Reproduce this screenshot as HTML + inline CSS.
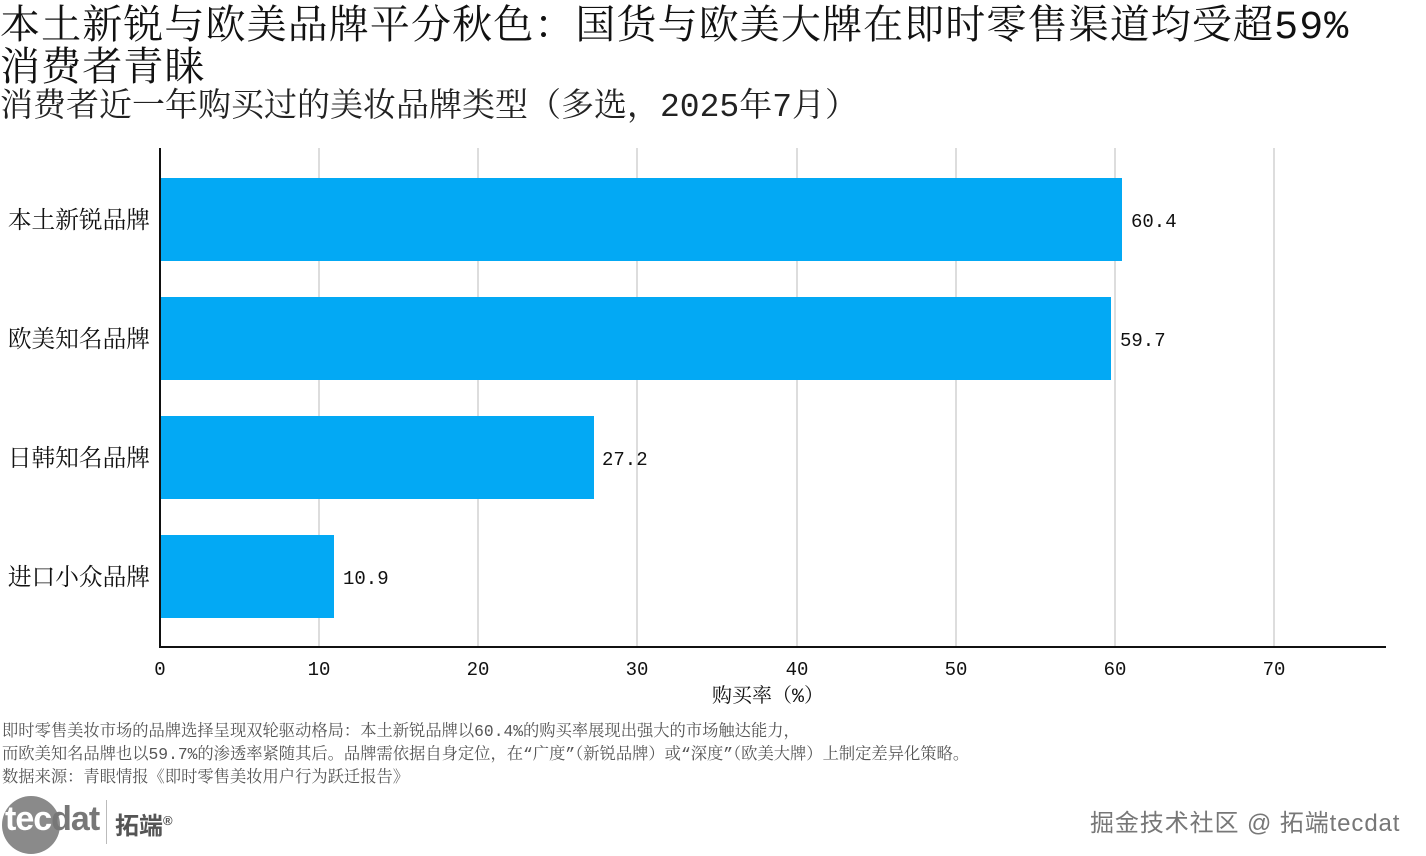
<!DOCTYPE html>
<html><head><meta charset="utf-8"><style>
body{margin:0;width:1426px;height:856px;background:#fff;position:relative;overflow:hidden;font-family:"Liberation Mono","Noto Serif CJK SC",serif;color:#111}
.a{position:absolute;white-space:nowrap}
</style></head><body>
<div class="a" style="left:0px;top:8px;font-size:40px;line-height:42px;letter-spacing:1.1px">本土新锐与欧美品牌平分秋色：国货与欧美大牌在即时零售渠道均受超59%<br>消费者青睐</div>
<div class="a" style="left:0px;top:88px;font-size:33px;line-height:40px;color:#222">消费者近一年购买过的美妆品牌类型（多选，2025年7月）</div>
<svg class="a" style="left:0;top:0" width="1426" height="720" font-family="Liberation Mono, Noto Serif CJK SC, serif">
<g stroke="#ddd" stroke-width="2">
<line x1="319" y1="148" x2="319" y2="647"/><line x1="478" y1="148" x2="478" y2="647"/><line x1="637" y1="148" x2="637" y2="647"/><line x1="797" y1="148" x2="797" y2="647"/><line x1="956" y1="148" x2="956" y2="647"/><line x1="1115" y1="148" x2="1115" y2="647"/><line x1="1274" y1="148" x2="1274" y2="647"/>
</g>
<g fill="#03a9f4">
<rect x="160" y="178" width="962" height="83"/>
<rect x="160" y="297" width="951" height="83"/>
<rect x="160" y="416" width="434" height="83"/>
<rect x="160" y="535" width="174" height="83"/>
</g>
<line x1="160" y1="148" x2="160" y2="648" stroke="#111" stroke-width="2"/>
<line x1="159" y1="647" x2="1386" y2="647" stroke="#111" stroke-width="2"/>
<g font-size="19" fill="#111">
<text x="1131" y="227">60.4</text><text x="1120" y="346">59.7</text><text x="602" y="465">27.2</text><text x="343" y="584">10.9</text>
</g>
<g font-size="23.7" fill="#111" text-anchor="end">
<text x="150" y="228">本土新锐品牌</text><text x="150" y="347">欧美知名品牌</text><text x="150" y="466">日韩知名品牌</text><text x="150" y="585">进口小众品牌</text>
</g>
<g font-size="19" fill="#111" text-anchor="middle">
<text x="160" y="675">0</text><text x="319" y="675">10</text><text x="478" y="675">20</text><text x="637" y="675">30</text><text x="797" y="675">40</text><text x="956" y="675">50</text><text x="1115" y="675">60</text><text x="1274" y="675">70</text>
<text x="768" y="702" font-size="20">购买率（%）</text>
</g>
</svg>
<div class="a" style="left:2px;top:720px;font-size:16.3px;line-height:23px;color:#555">即时零售美妆市场的品牌选择呈现双轮驱动格局：本土新锐品牌以60.4%的购买率展现出强大的市场触达能力，<br>而欧美知名品牌也以59.7%的渗透率紧随其后。品牌需依据自身定位，在“广度”（新锐品牌）或“深度”（欧美大牌）上制定差异化策略。<br>数据来源：青眼情报《即时零售美妆用户行为跃迁报告》</div>
<div class="a" style="left:2px;top:796px;width:58px;height:58px;border-radius:50%;background:#8a8a8a"></div>
<div class="a" style="left:5px;top:800px;font-family:'Liberation Sans',sans-serif;font-size:34px;font-weight:bold;color:#fff;letter-spacing:-1px">tec<span style="color:#777">dat</span></div>
<div class="a" style="left:106px;top:800px;width:1px;height:44px;background:#bbb"></div>
<div class="a" style="left:115px;top:806px;font-family:'Liberation Sans','Noto Sans CJK SC',sans-serif;font-size:24px;font-weight:bold;color:#555">拓端<sup style="font-size:13px">®</sup></div>
<div class="a" style="left:1090px;top:803px;font-family:'Liberation Sans','Noto Sans CJK SC',sans-serif;font-size:24px;color:#777;letter-spacing:0.9px">掘金技术社区 @ 拓端tecdat</div>
</body></html>
